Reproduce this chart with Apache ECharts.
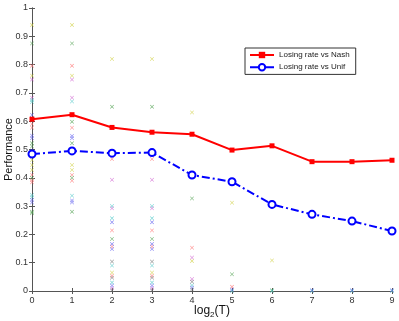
<!DOCTYPE html>
<html>
<head>
<meta charset="utf-8">
<script src="https://cdn.jsdelivr.net/npm/echarts@6/dist/echarts.min.js"></script>
<style>
  html, body { margin: 0; padding: 0; background: #fff; }
  #main { width: 399px; height: 321px; }
</style>
</head>
<body>
<div id="main"></div>
<script>
// x positions: log2(T)
var xTicks = [0, 1, 2, 3, 4, 5, 6, 7, 8, 9];
var nashRate = [0.607, 0.623, 0.578, 0.561, 0.554, 0.498, 0.513, 0.457, 0.457, 0.462];
var unifRate = [0.484, 0.495, 0.487, 0.489, 0.410, 0.386, 0.306, 0.271, 0.247, 0.212];

// individual runs, grouped by marker colour: [log2(T), performance]
var redRuns = [[0,0.796],[0,0.59],[0,0.577],[0,0.41],[0,0.392],[0,0.384],[1,0.796],[1,0.577],[1,0.41],[1,0.39],
    [2,0.466],[2,0.214],[2,0.157],[2,0.054],[3,0.466],[3,0.214],[3,0.157],[3,0.054],[4,0.153],[5,0.015]];
var yellowRuns = [[0,0.94],[0,0.761],[0,0.463],[0,0.445],[0,0.428],[1,0.94],[1,0.761],[1,0.445],[1,0.428],
    [2,0.82],[2,0.065],[3,0.82],[3,0.065],[4,0.631],[4,0.106],[5,0.312],[6,0.108]];
var greenRuns = [[0,0.875],[0,0.522],[0,0.511],[0,0.4],[0,0.28],[0,0.275],[1,0.875],[1,0.598],[1,0.522],[1,0.4],[1,0.28],
    [2,0.651],[2,0.184],[3,0.651],[3,0.184],[4,0.327],[5,0.059],[6,0.003]];
var magentaRuns = [[0,0.747],[0,0.683],[1,0.747],[1,0.683],[2,0.393],[2,0.292],[2,0.01],[3,0.393],[3,0.292],[3,0.01],
    [4,0.118],[4,0.042]];
var cyanRuns = [[0,0.675],[0,0.668],[0,0.339],[0,0.331],[1,0.67],[1,0.486],[1,0.337],[2,0.30],[2,0.257],[2,0.09],[2,0.03],
    [3,0.30],[3,0.257],[3,0.09],[3,0.03],[4,0.02],[5,0],[6,0],[7,0],[8,0],[9,0]];
var blueRuns = [[0,0.622],[0,0.61],[0,0.549],[0,0.54],[0,0.322],[0,0.313],[1,0.622],[1,0.548],[1,0.54],[1,0.32],[1,0.313],
    [2,0.243],[2,0.166],[2,0.148],[2,0.019],[3,0.243],[3,0.166],[3,0.148],[3,0.019],[4,0.012],[5,0.005],
    [7,0.003],[8,0.003],[9,0.003]];
var darkRuns = [[2,0.104],[2,0.047],[2,0.003],[3,0.104],[3,0.047],[3,0.003],[4,0.033],[4,0.005]];

var crossPath = 'path://M0,1L1,0L5,4L9,0L10,1L6,5L10,9L9,10L5,6L1,10L0,9L4,5Z';
var font = 'Liberation Sans';

function runs(data, color) {
    return {
        type: 'scatter',
        data: data,
        symbol: crossPath,
        symbolSize: 4,
        itemStyle: { color: color },
        silent: true,
        z: 1
    };
}

var myChart = echarts.init(document.getElementById('main'));

myChart.setOption({
    animation: false,
    textStyle: { fontFamily: font },
    grid: { left: 32, right: 7, top: 8, bottom: 30, outerBoundsMode: 'none', containLabel: false },
    legend: {
        left: 245, top: 48,
        orient: 'vertical',
        data: ['Losing rate vs Nash', 'Losing rate vs Unif'],
        borderColor: '#333', borderWidth: 1,
        padding: [3, 6, 3, 4],
        itemGap: 4, itemWidth: 24, itemHeight: 8,
        textStyle: { fontSize: 8, color: '#222', fontFamily: font }
    },
    xAxis: [{
        type: 'value', min: 0, max: 9, interval: 1,
        position: 'bottom',
        name: 'log{sub|2}(T)',
        nameLocation: 'middle', nameGap: 12,
        nameMoveOverlap: false,
        nameTextStyle: {
            fontSize: 12, color: '#111', fontFamily: font,
            rich: { sub: { fontSize: 8, verticalAlign: 'bottom', padding: [8, 0, 0, 0], fontFamily: font } }
        },
        axisLine: { lineStyle: { color: '#555' } },
        axisTick: { inside: true, length: 3, lineStyle: { color: '#555' } },
        axisLabel: { fontSize: 9, color: '#333', margin: 5 },
        splitLine: { show: false }
    }, {
        type: 'value', min: 0, max: 9, interval: 1,
        position: 'top',
        axisLine: { lineStyle: { color: '#555' } },
        axisTick: { inside: true, length: 3, lineStyle: { color: '#555' } },
        axisLabel: { show: false },
        splitLine: { show: false }
    }],
    yAxis: [{
        type: 'value', min: 0, max: 1, interval: 0.1,
        position: 'left',
        name: 'Performance',
        nameLocation: 'middle', nameGap: 18,
        nameMoveOverlap: false,
        nameTextStyle: { fontSize: 11, color: '#111', fontFamily: font },
        axisLine: { show: true, lineStyle: { color: '#555' } },
        axisTick: { show: true, inside: true, length: 3, lineStyle: { color: '#555' } },
        axisLabel: {
            fontSize: 9, color: '#333', margin: 4,
            formatter: function (v) { return (v === 0 || v === 1) ? String(v) : v.toFixed(1); }
        },
        splitLine: { show: false }
    }, {
        type: 'value', min: 0, max: 1, interval: 0.1,
        position: 'right',
        axisLine: { show: true, lineStyle: { color: '#555' } },
        axisTick: { show: true, inside: true, length: 3, lineStyle: { color: '#555' } },
        axisLabel: { show: false },
        splitLine: { show: false }
    }],
    series: [
        runs(redRuns, '#ff7070'),
        runs(yellowRuns, '#d0d040'),
        runs(greenRuns, '#50a050'),
        runs(magentaRuns, '#d060d0'),
        runs(cyanRuns, '#50c8c8'),
        runs(blueRuns, '#6060f0'),
        runs(darkRuns, '#707070'),
        {
            name: 'Losing rate vs Nash',
            type: 'line',
            data: xTicks.map(function (x, i) { return [x, nashRate[i]]; }),
            symbol: 'rect', symbolSize: 5,
            itemStyle: { color: '#ff0000' },
            lineStyle: { color: '#ff0000', width: 2 },
            z: 5
        },
        {
            name: 'Losing rate vs Unif',
            type: 'line',
            data: xTicks.map(function (x, i) { return [x, unifRate[i]]; }),
            symbol: 'emptyCircle', symbolSize: 7,
            itemStyle: { color: '#0000ff', borderColor: '#0000ff', borderWidth: 2 },
            lineStyle: { color: '#0000ff', width: 2, type: [8, 3, 2, 3] },
            z: 5
        }
    ]
});
</script>
</body>
</html>
